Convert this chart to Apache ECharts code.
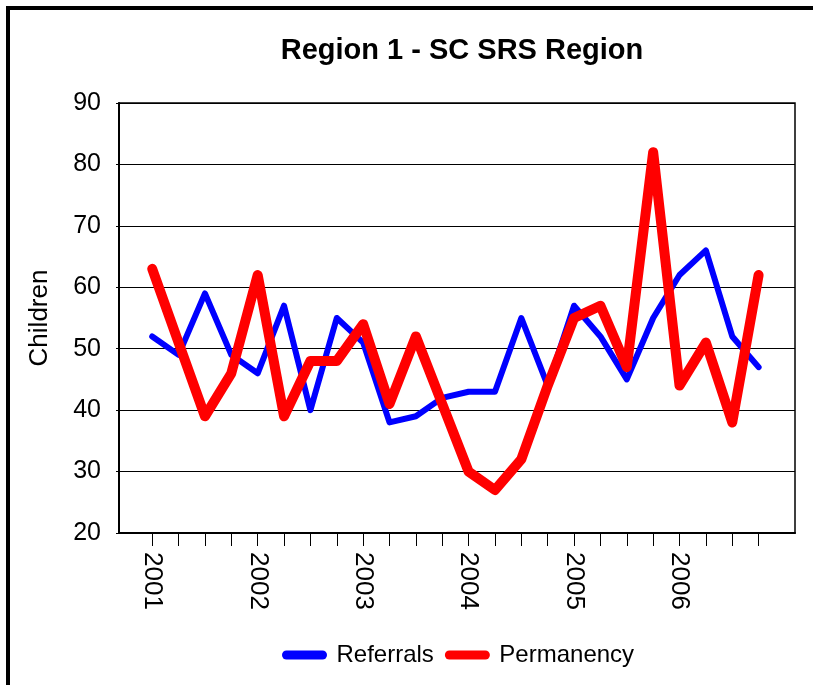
<!DOCTYPE html>
<html>
<head>
<meta charset="utf-8">
<script src="https://cdn.jsdelivr.net/npm/echarts@6/dist/echarts.min.js"></script>
<style>
html,body{margin:0;padding:0;background:#fff;}
#chart{width:813px;height:685px;}
</style>
</head>
<body>
<div id="chart"></div>
<script>
// Quarterly categories 2001 Q1 .. 2006 Q4
var quarters = ['2001 Q1','2001 Q2','2001 Q3','2001 Q4','2002 Q1','2002 Q2','2002 Q3','2002 Q4',
                '2003 Q1','2003 Q2','2003 Q3','2003 Q4','2004 Q1','2004 Q2','2004 Q3','2004 Q4',
                '2005 Q1','2005 Q2','2005 Q3','2005 Q4','2006 Q1','2006 Q2','2006 Q3','2006 Q4'];
var yearLabels = ['2001','2002','2003','2004','2005','2006'];
var referrals  = [52,49,59,49,46,57,40,55,51,38,39,42,43,43,55,44,57,52,45,55,62,66,52,47];
var permanency = [63,51,39,46,62,39,48,48,54,41,52,41,30,27,32,44,55,57,47,82,44,51,38,62];
var yTicks = [20,30,40,50,60,70,80,90];

function toPairs(arr){ return arr.map(function(v,i){ return [i,v]; }); }
var tickIdx = quarters.map(function(q,i){ return i; });
var labelIdx = yearLabels.map(function(y,i){ return i*4; });

var chart = echarts.init(document.getElementById('chart'));
var font = '"Liberation Sans", Arial, sans-serif';
var capsule = 'path://M5,0 H45 A5,5 0 0 1 45,10 H5 A5,5 0 0 1 5,0 Z';
chart.setOption({
  animation:false,
  backgroundColor:'#fff',
  graphic:[{type:'rect', shape:{x:8,y:8,width:900,height:800}, style:{fill:'none',stroke:'#000',lineWidth:4}, z:100}],
  title:{text:'Region 1 - SC SRS Region', left:457, top:31, textAlign:'center',
    textStyle:{fontFamily:font, fontSize:29, fontWeight:'bold', color:'#000'}},
  legend:{left:277, top:638, itemWidth:46, itemHeight:9, itemGap:11,
    textStyle:{fontFamily:font, fontSize:24, color:'#000', padding:[0,0,0,4]},
    data:[{name:'Referrals', icon:capsule},{name:'Permanency', icon:capsule}]},
  grid:{left:119, right:18, top:103, bottom:152, show:true, borderColor:'#000', borderWidth:1.5, containLabel:false},
  xAxis:{type:'value', min:-1.26, max:24.38,
    axisLine:{show:true, onZero:false, lineStyle:{color:'#000', width:2}},
    axisTick:{show:true, inside:false, length:13, customValues:tickIdx, lineStyle:{color:'#000', width:1}},
    axisLabel:{show:true, customValues:labelIdx, rotate:-90, margin:19,
      fontFamily:font, fontSize:26, color:'#000',
      formatter:function(v){ var k = Math.round(v); return (k%4===0 && yearLabels[k/4]) ? yearLabels[k/4] : ''; }},
    splitLine:{show:false}},
  yAxis:{type:'value', min:yTicks[0], max:yTicks[yTicks.length-1], interval:10,
    name:'Children', nameLocation:'middle', nameRotate:90, nameGap:66,
    nameTextStyle:{fontFamily:font, fontSize:26, color:'#000'},
    axisLine:{show:true, onZero:false, lineStyle:{color:'#000', width:2}},
    axisTick:{show:true, length:3, lineStyle:{color:'#000'}},
    axisLabel:{fontFamily:font, fontSize:25, color:'#000', margin:18},
    splitLine:{show:true, lineStyle:{color:'#000', width:1}}},
  series:[
    {name:'Referrals', type:'line', data:toPairs(referrals), symbol:'none', color:'#0000ff',
     lineStyle:{color:'#0000ff', width:6, cap:'round', join:'round'}, itemStyle:{color:'#0000ff'}},
    {name:'Permanency', type:'line', data:toPairs(permanency), symbol:'none', color:'#ff0000',
     lineStyle:{color:'#ff0000', width:10, cap:'round', join:'round'}, itemStyle:{color:'#ff0000'}}
  ]
});
</script>
</body>
</html>
